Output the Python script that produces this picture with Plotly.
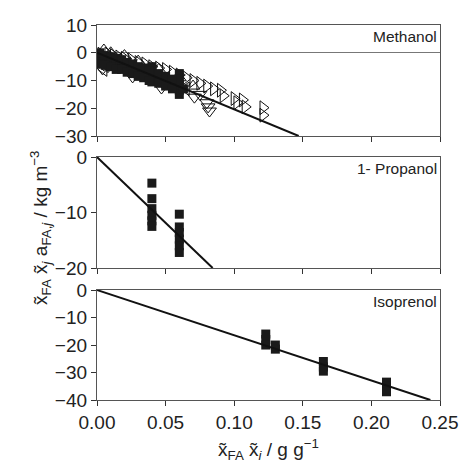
import plotly.graph_objects as go
from plotly.subplots import make_subplots

# --- data ---
# Methanol (top panel)
meth_sq_x = [0.001, 0.002, 0.003, 0.004, 0.005, 0.006, 0.008, 0.010, 0.012, 0.014, 0.016, 0.018,
             0.020, 0.022, 0.025, 0.028, 0.030, 0.033, 0.036, 0.038, 0.040, 0.040, 0.040, 0.040,
             0.043, 0.046, 0.050, 0.053, 0.056, 0.060, 0.060, 0.060, 0.060, 0.060, 0.063,
             0.002, 0.006, 0.010, 0.014, 0.018, 0.022, 0.026, 0.030, 0.034, 0.038, 0.045, 0.050, 0.055,
             0.002, 0.006, 0.010, 0.014, 0.018, 0.022, 0.026, 0.030, 0.034, 0.038, 0.045, 0.050, 0.055]
meth_sq_y = [-1.0, -2.5, -1.5, -3.0, -2.0, -3.5, -2.5, -3.0, -4.0, -3.5, -4.5, -4.0,
             -5.0, -4.5, -5.5, -6.0, -7.0, -7.0, -8.0, -8.5, -5.0, -7.0, -9.0, -10.5,
             -9.0, -10.0, -11.0, -11.0, -12.0, -7.5, -9.5, -11.5, -13.5, -15.0, -13.0,
             0.0, -1.0, -1.5, -2.0, -2.5, -3.5, -4.0, -5.0, -5.5, -6.5, -7.5, -8.5, -9.5,
             -4.0, -4.5, -5.0, -6.0, -6.0, -7.0, -7.5, -8.5, -9.0, -10.0, -11.0, -12.0, -13.0]
meth_tr_x = [0.003, 0.008, 0.012, 0.016, 0.020, 0.025, 0.030, 0.035, 0.040, 0.045, 0.050, 0.055,
             0.060, 0.065, 0.070, 0.075, 0.080, 0.085, 0.090, 0.092, 0.100, 0.102, 0.106, 0.108,
             0.121, 0.121]
meth_tr_y = [-0.5, -0.5, -1.0, -1.5, -2.0, -2.5, -3.5, -4.0, -5.0, -5.5, -6.0, -7.0,
             -8.0, -9.0, -10.0, -11.0, -12.0, -13.0, -13.5, -15.5, -16.5, -18.0, -17.0, -19.5,
             -19.8, -22.5]
meth_td_x = [0.004, 0.008, 0.014, 0.026, 0.035, 0.047, 0.055, 0.071, 0.075, 0.080, 0.081, 0.082]
meth_td_y = [-5.8, -5.0, -4.5, -8.7, -8.0, -12.7, -12.0, -16.0, -15.0, -18.0, -19.5, -21.0]
meth_tl_x = [0.003, 0.005, 0.010, 0.020, 0.030, 0.050, 0.065]
meth_tl_y = [-4.0, -6.0, -3.0, -5.0, -6.5, -10.0, -13.0]
meth_tu_x = [0.005, 0.010, 0.020, 0.030, 0.045, 0.060, 0.070]
meth_tu_y = [1.0, 0.0, -1.0, -3.0, -6.0, -9.0, -12.0]
meth_fit_x = [0.0, 0.147]
meth_fit_y = [0.0, -30.0]

# 1-Propanol (middle panel)
prop_x = [0.04, 0.04, 0.04, 0.04, 0.04, 0.04, 0.06, 0.06, 0.06, 0.06, 0.06, 0.06]
prop_y = [-4.7, -7.5, -9.3, -10.5, -11.5, -12.5, -10.3, -12.6, -13.6, -14.8, -16.0, -17.2]
prop_fit_x = [0.0, 0.0843]
prop_fit_y = [0.0, -20.0]

# Isoprenol (bottom panel)
iso_x = [0.123, 0.123, 0.123, 0.130, 0.130, 0.165, 0.165, 0.165, 0.211, 0.211, 0.211]
iso_y = [-16.0, -18.0, -20.0, -20.0, -21.5, -26.0, -28.0, -29.5, -33.5, -35.0, -37.0]
iso_fit_x = [0.0, 0.243]
iso_fit_y = [0.0, -40.0]

x_ticks = [0.0, 0.05, 0.10, 0.15, 0.20, 0.25]
x_labels = ["0.00", "0.05", "0.10", "0.15", "0.20", "0.25"]

panel_names = ["Methanol", "1- Propanol", "Isoprenol"]
y_ranges = [[-30, 10.02], [-20, 0.01], [-40, 0.02]]
y_ticks = [[10, 0, -10, -20, -30], [0, -10, -20], [0, -10, -20, -30, -40]]

FONT = "Liberation Sans, Arial, sans-serif"
sq = dict(symbol="square", size=9, color="#1a1a1a")

def open_tri(sym):
    return dict(symbol=sym, size=12, color="#111", line=dict(color="#111", width=1))

fig = make_subplots(rows=3, cols=1, shared_xaxes=False, vertical_spacing=0.055)

# top panel
fig.add_trace(go.Scatter(x=meth_tr_x, y=meth_tr_y, mode="markers", marker=open_tri("triangle-right-open")), row=1, col=1)
fig.add_trace(go.Scatter(x=meth_td_x, y=meth_td_y, mode="markers", marker=open_tri("triangle-down-open")), row=1, col=1)
fig.add_trace(go.Scatter(x=meth_tl_x, y=meth_tl_y, mode="markers", marker=open_tri("triangle-left-open")), row=1, col=1)
fig.add_trace(go.Scatter(x=meth_tu_x, y=meth_tu_y, mode="markers", marker=open_tri("triangle-up-open")), row=1, col=1)
fig.add_trace(go.Scatter(x=meth_sq_x, y=meth_sq_y, mode="markers", marker=sq), row=1, col=1)
fig.add_trace(go.Scatter(x=meth_fit_x, y=meth_fit_y, mode="lines", line=dict(color="#111", width=2)), row=1, col=1)

# middle panel
fig.add_trace(go.Scatter(x=prop_x, y=prop_y, mode="markers", marker=sq), row=2, col=1)
fig.add_trace(go.Scatter(x=prop_fit_x, y=prop_fit_y, mode="lines", line=dict(color="#111", width=2)), row=2, col=1)

# bottom panel
fig.add_trace(go.Scatter(x=iso_x, y=iso_y, mode="markers", marker=sq), row=3, col=1)
fig.add_trace(go.Scatter(x=iso_fit_x, y=iso_fit_y, mode="lines", line=dict(color="#111", width=2)), row=3, col=1)

domains = [[0.704, 1.0], [0.352, 0.648], [0.0, 0.2933]]
for i in range(3):
    r = i + 1
    fig.update_xaxes(row=r, col=1, range=[0, 0.25], tickvals=x_ticks, ticktext=x_labels,
                     showticklabels=(r == 3), ticks="outside", ticklen=5, tickcolor="#333",
                     showline=True, linecolor="#555", linewidth=1.2, mirror=True,
                     showgrid=False, zeroline=False)
    fig.update_yaxes(row=r, col=1, range=y_ranges[i], tickvals=y_ticks[i],
                     ticktext=[str(v).replace("-", "\u2212") for v in y_ticks[i]],
                     ticks="outside", ticklen=5, tickcolor="#333",
                     showline=True, linecolor="#555", linewidth=1.2, mirror=True,
                     showgrid=False, zeroline=(r == 1), zerolinecolor="#777", zerolinewidth=1,
                     domain=domains[i])

# panel names
for i, name in enumerate(panel_names):
    yref = "y domain" if i == 0 else "y%d domain" % (i + 1)
    xref = "x domain" if i == 0 else "x%d domain" % (i + 1)
    fig.add_annotation(text=name, x=1, y=1, xref=xref, yref=yref, xanchor="right", yanchor="top",
                       showarrow=False, font=dict(size=15.5, color="#222"), xshift=-1, yshift=-1)

# axis titles
fig.add_annotation(text="x\u0303<sub>FA</sub> x\u0303<sub><i>j</i></sub> a<sub>FA,<i>j</i></sub> / kg m<sup>\u22123</sup>",
                   x=-0.163, y=0.459, xref="paper", yref="paper", textangle=-90,
                   xanchor="center", yanchor="middle",
                   showarrow=False, font=dict(size=19, color="#222"))
fig.add_annotation(text="x\u0303<sub>FA</sub> x\u0303<sub><i>i</i></sub> / g g<sup>\u22121</sup>",
                   x=0.5, y=-0.133, xref="paper", yref="paper", xanchor="center", yanchor="middle",
                   showarrow=False, font=dict(size=19, color="#222"))

fig.update_layout(width=470, height=468, margin=dict(l=97, r=23, t=25, b=68),
                  plot_bgcolor="white", paper_bgcolor="white", showlegend=False,
                  font=dict(family=FONT, size=19, color="#222"))

fig.write_html("out.html", config={"displayModeBar": False},
               post_script="document.body.style.margin='0';document.body.style.overflow='hidden';")
